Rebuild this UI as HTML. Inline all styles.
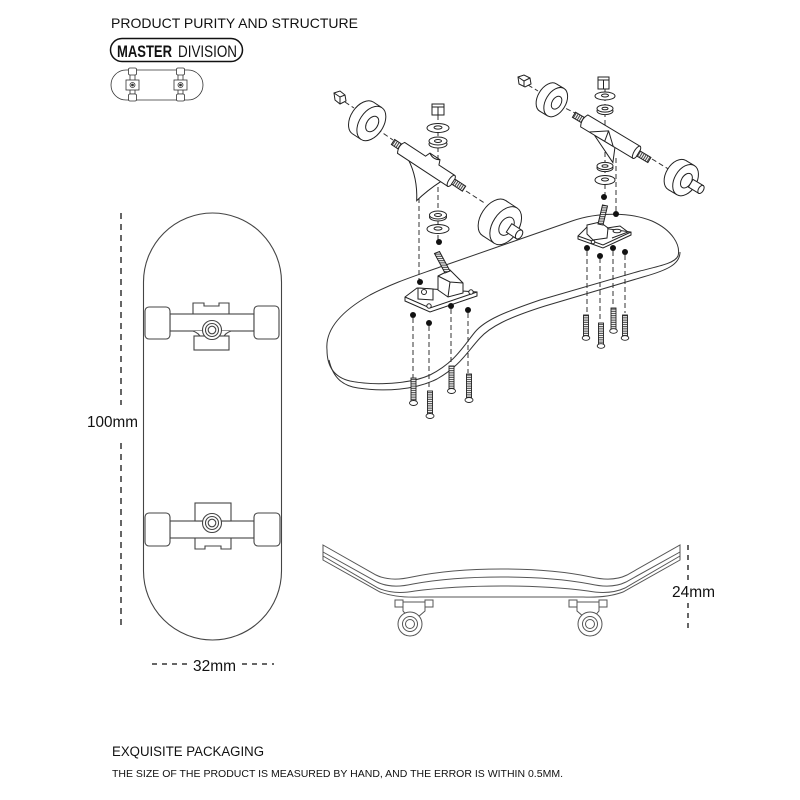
<!DOCTYPE html>
<html><head><meta charset="utf-8"><style>
html,body{margin:0;padding:0;background:#fff;}
svg{display:block;}
text{font-family:"Liberation Sans",Arial,sans-serif;fill:#111;}
</style></head><body>
<svg width="800" height="800" viewBox="0 0 800 800" xmlns="http://www.w3.org/2000/svg">
<defs>
<pattern id="thh" width="4" height="2.2" patternUnits="userSpaceOnUse"><rect width="4" height="2.2" fill="#fff"/><line x1="0" y1="1.1" x2="4" y2="1.1" stroke="#222" stroke-width="0.9"/></pattern>
<pattern id="thv" width="2.2" height="4" patternUnits="userSpaceOnUse"><rect width="2.2" height="4" fill="#fff"/><line x1="1.1" y1="0" x2="1.1" y2="4" stroke="#222" stroke-width="0.9"/></pattern>
</defs>

<!-- Header -->
<text x="111" y="28" font-size="14" textLength="247" lengthAdjust="spacingAndGlyphs">PRODUCT PURITY AND STRUCTURE</text>
<rect x="110.5" y="38.5" width="132" height="23" rx="11.5" fill="none" stroke="#111" stroke-width="1.5"/>
<text x="117" y="57" font-size="17" font-weight="bold" textLength="55" lengthAdjust="spacingAndGlyphs">MASTER</text>
<text x="178" y="57" font-size="17" textLength="59" lengthAdjust="spacingAndGlyphs">DIVISION</text>

<!-- small icon -->
<g stroke="#333" fill="#fff" stroke-width="0.8">
<rect x="111" y="70" width="92" height="30" rx="15" fill="none"/>
<rect x="130" y="74" width="5" height="20"/>
<rect x="128.5" y="68" width="8" height="7" rx="1.5"/>
<rect x="128.5" y="94" width="8" height="7" rx="1.5"/>
<rect x="126" y="80" width="13" height="10"/>
<circle cx="132.5" cy="85" r="2.5"/><circle cx="132.5" cy="85" r="1" fill="#333"/>
<rect x="178" y="74" width="5" height="20"/>
<rect x="176.5" y="68" width="8" height="7" rx="1.5"/>
<rect x="176.5" y="94" width="8" height="7" rx="1.5"/>
<rect x="174" y="80" width="13" height="10"/>
<circle cx="180.5" cy="85" r="2.5"/><circle cx="180.5" cy="85" r="1" fill="#333"/>
</g>

<!-- Front view deck -->
<g stroke="#444" stroke-width="1.1" fill="#fff">
<rect x="143.5" y="213" width="138" height="427" rx="69" fill="none"/>
<!-- top truck -->
<rect x="170" y="314" width="84" height="17"/>
<rect x="145" y="307" width="25" height="32" rx="4"/>
<rect x="254" y="306" width="25" height="33" rx="4"/>
<path d="M193,314 V303 H204 V306 H219 V303 H229 V314" fill="none"/>
<path d="M193,331 Q199,333 201,338 V350 H223 V338 Q225,333 231,331" />
<rect x="194" y="336" width="35" height="14"/>
<circle cx="212" cy="330" r="9.5"/>
<circle cx="212" cy="330" r="6.5"/>
<circle cx="212" cy="330" r="3.8"/>
<!-- bottom truck -->
<rect x="170" y="521" width="84" height="17"/>
<rect x="145" y="513" width="25" height="33" rx="4"/>
<rect x="254" y="513" width="26" height="33" rx="4"/>
<rect x="195" y="503" width="36" height="18"/>
<path d="M195,538 V549 H205 V546 H221 V549 H231 V538" fill="none"/>
<circle cx="212" cy="523" r="9.5"/>
<circle cx="212" cy="523" r="6.5"/>
<circle cx="212" cy="523" r="3.8"/>
</g>

<!-- dimensions -->
<g stroke="#333" stroke-width="1.5" stroke-dasharray="6 5" fill="none">
<line x1="121" y1="213" x2="121" y2="405"/>
<line x1="121" y1="443" x2="121" y2="630"/>
<line x1="152" y1="664" x2="190" y2="664" stroke-dasharray="5 5"/>
<line x1="242" y1="664" x2="274" y2="664" stroke-dasharray="5 5"/>
<line x1="688" y1="545" x2="688" y2="580" stroke-dasharray="5 5"/>
<line x1="688" y1="603" x2="688" y2="630" stroke-dasharray="5 5"/>
</g>
<text x="87" y="427" font-size="16" textLength="51" lengthAdjust="spacingAndGlyphs">100mm</text>
<text x="193" y="671" font-size="16" textLength="43" lengthAdjust="spacingAndGlyphs">32mm</text>
<text x="672" y="597" font-size="16" textLength="43" lengthAdjust="spacingAndGlyphs">24mm</text>

<!-- Side view -->
<g stroke="#555" stroke-width="1" fill="#fff">
<!-- trucks -->
<path d="M395,600 H403 V607 H395 Z M425,600 H433 V607 H425 Z"/>
<path d="M403,602 H425 V611 L418,617 H408 L403,611 Z"/>
<circle cx="410" cy="624" r="12"/>
<circle cx="410" cy="624" r="7.5"/>
<circle cx="410" cy="624" r="4.5"/>
<path d="M569,600 H577 V607 H569 Z M599,600 H607 V607 H599 Z"/>
<path d="M577,602 H599 V611 L594,617 H584 L577,611 Z"/>
<circle cx="590" cy="624" r="12"/>
<circle cx="590" cy="624" r="7.5"/>
<circle cx="590" cy="624" r="4.5"/>
<!-- deck -->
<path d="M323,545 L376,575 Q390,582 412,577 Q450,569 501.5,569 Q553,569 591,577 Q613,582 627,575 L680,545 V560 L623,592 Q607,598 583,597 L420,597 Q396,598 380,592 L323,560 Z"/>
<path fill="none" d="M323,552 L377,582 Q391,589 413,584 Q451,577 501.5,577 Q552,577 590,584 Q612,589 626,582 L680,552"/>
<path fill="none" d="M323,556 L378,588 Q393,595 415,591 Q453,586 501.5,586 Q550,586 588,591 Q610,595 625,588 L680,556"/>
</g>

<!-- Exploded deck -->
<g stroke="#333" stroke-width="1" fill="none">
<path fill="#fff" d="M327,350 C325,330 340,312 370,295 C395,282 415,276 440,267 L572,221 C598,212 630,212 652,221 C672,230 681,245 678,256 C675,263 660,266 640,271 L540,300 C505,312 485,320 475,332 C462,348 455,362 430,375 C410,384 375,386 350,381 C333,377 327,365 327,350 Z"/>
<path d="M329,360 C333,378 343,386 358,388 C385,392 415,390 437,379 C460,366 467,352 480,338 C490,327 507,318 545,306 L643,277 C668,270 680,264 680,252"/>
</g>

<!-- dashed guide lines -->
<g stroke="#333" stroke-width="1" stroke-dasharray="5 3" fill="none">
<line x1="438" y1="115" x2="438" y2="240"/>
<line x1="419" y1="198" x2="419" y2="280"/>
<line x1="413" y1="318" x2="413" y2="378"/>
<line x1="429" y1="326" x2="429" y2="390"/>
<line x1="451" y1="309" x2="451" y2="365"/>
<line x1="468" y1="313" x2="468" y2="373"/>
<line x1="605" y1="88" x2="605" y2="195"/>
<line x1="616" y1="158" x2="616" y2="212"/>
<line x1="587" y1="251" x2="587" y2="313"/>
<line x1="600" y1="258" x2="600" y2="321"/>
<line x1="613" y1="251" x2="613" y2="306"/>
<line x1="625" y1="255" x2="625" y2="313"/>
<line x1="345" y1="102" x2="354" y2="108"/>
<line x1="377" y1="129" x2="393" y2="140"/>
<line x1="466" y1="191" x2="486" y2="204"/>
<line x1="528" y1="85" x2="538" y2="91"/>
<line x1="559" y1="105" x2="575" y2="113"/>
<line x1="652" y1="159" x2="670" y2="170"/>
</g>

<!-- baseplates -->
<g stroke="#222" stroke-width="1" fill="#fff">
<path d="M405,297 L417,288 L477,292 L477,296 L430,312 L405,301 Z"/>
<path d="M405,297 L430,308 L477,292" fill="none"/>
<path d="M418,288 L433,289 L433,300 L418,299 Z"/>
<circle cx="424" cy="292" r="2.5"/>
<circle cx="429" cy="306" r="2.2"/>
<circle cx="471" cy="292" r="2.2"/>
<path d="M438,276 L450,270 L463,283 L463,293 L448,297 L438,290 Z"/>
<path d="M438,276 L450,282 L463,283 M450,282 L448,297" fill="none"/>
<path d="M434.5,253.5 L439.5,251.5 L450,271 L445,273 Z" fill="url(#thh)"/>
<path d="M578,236 L588,226 L631,232 L631,235 L603,248 L578,239 Z"/>
<path d="M578,236 L603,245 L631,232" fill="none"/>
<path d="M587,225 L600,222 L608,228 L607,238 L593,240 L587,234 Z"/>
<path d="M607,228 L620,226 L628,232 L612,238" fill="none"/>
<ellipse cx="617" cy="231" rx="4" ry="1.8"/>
<circle cx="593" cy="242" r="1.8"/>
<path d="M602.5,205 L607.5,206 L603,225 L598,224 Z" fill="url(#thh)"/>
</g>

<!-- screws -->
<g stroke="#222" stroke-width="0.9">
<rect x="411" y="378" width="5" height="24" fill="url(#thh)"/><ellipse cx="413.5" cy="403" rx="4" ry="2.5" fill="#fff"/>
<rect x="427.5" y="391" width="5" height="24" fill="url(#thh)"/><ellipse cx="430" cy="416" rx="4" ry="2.5" fill="#fff"/>
<rect x="449" y="366" width="5" height="24" fill="url(#thh)"/><ellipse cx="451.5" cy="391" rx="4" ry="2.5" fill="#fff"/>
<rect x="466.5" y="374" width="5" height="25" fill="url(#thh)"/><ellipse cx="469" cy="400" rx="4" ry="2.5" fill="#fff"/>
<rect x="583.5" y="315" width="5" height="22" fill="url(#thh)"/><ellipse cx="586" cy="338" rx="3.8" ry="2.3" fill="#fff"/>
<rect x="598.5" y="323" width="5" height="22" fill="url(#thh)"/><ellipse cx="601" cy="346" rx="3.8" ry="2.3" fill="#fff"/>
<rect x="611" y="308" width="5" height="22" fill="url(#thh)"/><ellipse cx="613.5" cy="331" rx="3.8" ry="2.3" fill="#fff"/>
<rect x="622.5" y="315" width="5" height="22" fill="url(#thh)"/><ellipse cx="625" cy="338" rx="3.8" ry="2.3" fill="#fff"/>
</g>

<!-- dots -->
<g fill="#111">
<circle cx="420" cy="282" r="3"/><circle cx="439" cy="242" r="3"/>
<circle cx="413" cy="315" r="3"/><circle cx="429" cy="323" r="3"/>
<circle cx="451" cy="306" r="3"/><circle cx="468" cy="310" r="3"/>
<circle cx="604" cy="197" r="3"/><circle cx="616" cy="214" r="3"/>
<circle cx="587" cy="248" r="3"/><circle cx="600" cy="256" r="3"/>
<circle cx="613" cy="248" r="3"/><circle cx="625" cy="252" r="3"/>
</g>

<!-- washers & kingpin nuts -->
<g stroke="#222" stroke-width="1" fill="#fff">
<rect x="432" y="104" width="12" height="11"/><path d="M432,107 H444 M438,107 V115" fill="none"/>
<ellipse cx="438" cy="128" rx="11" ry="4.5"/><ellipse cx="438" cy="127.5" rx="4" ry="1.6"/>
<ellipse cx="438" cy="144" rx="9" ry="4"/><ellipse cx="438" cy="141" rx="9" ry="4"/><ellipse cx="438" cy="141" rx="3.5" ry="1.5"/>
<ellipse cx="438" cy="217" rx="8.5" ry="4"/><ellipse cx="438" cy="215" rx="8.5" ry="4"/><ellipse cx="438" cy="215" rx="3.5" ry="1.5"/>
<ellipse cx="438" cy="229" rx="11" ry="4.5"/><ellipse cx="438" cy="228.5" rx="4" ry="1.6"/>
<rect x="598" y="77" width="11" height="12"/><path d="M598,80 H609 M603.5,80 V89" fill="none"/>
<ellipse cx="605" cy="96" rx="10" ry="4"/><ellipse cx="605" cy="95.5" rx="3.5" ry="1.5"/>
<ellipse cx="605" cy="111" rx="8" ry="3.6"/><ellipse cx="605" cy="108.5" rx="8" ry="3.6"/><ellipse cx="605" cy="108.5" rx="3" ry="1.3"/>
<ellipse cx="605" cy="168" rx="8" ry="3.6"/><ellipse cx="605" cy="166" rx="8" ry="3.6"/><ellipse cx="605" cy="166" rx="3" ry="1.3"/>
<ellipse cx="605" cy="180" rx="10" ry="4.5"/><ellipse cx="605" cy="179.5" rx="3.5" ry="1.5"/>
<!-- axle nuts -->
<polygon points="334,93 340,91 345,95 346,101 340,104 335,100"/>
<path d="M334,93 L340,97 L345,95 M340,97 L340,104" fill="none"/>
<polygon points="518,77 524,75 530,78 531,84 525,87 519,84"/>
<path d="M518,77 L524,81 L530,78 M524,81 L524,87" fill="none"/>
</g>

<!-- hangers -->
<g stroke="#222" stroke-width="1" fill="#fff">
<g transform="translate(393,142) rotate(33.3)">
<rect x="0" y="-3" width="11" height="6" fill="url(#thv)"/>
<path d="M22,6 Q40,16 52,36 Q55,22 62,6 Z"/>
<path d="M10,-6 L35,-6 L37,-11 L49,-11 L51,-6 L70,-6 Q74,0 70,7 L10,7 Q6,0 10,-6 Z"/>
<path d="M37,-11 Q43,-7 49,-11" fill="none"/>
<ellipse cx="70" cy="0.5" rx="2.5" ry="6.5"/>
<rect x="72" y="-3" width="13" height="6" fill="url(#thv)"/>
</g>
<g transform="translate(575,113) rotate(31)">
<rect x="0" y="-1" width="12" height="6" fill="url(#thv)"/>
<path d="M28,9 L58,23 L52,9 Z"/>
<path d="M12,-5 L73,-5 Q77,2 73,9 L12,9 Q8,2 12,-5 Z"/>
<path d="M22,9 L38,-2 L50,9 M38,-2 L40,9" fill="none"/>
<ellipse cx="73" cy="2" rx="2.5" ry="7"/>
<rect x="75" y="-1" width="13" height="6" fill="url(#thv)"/>
</g>
</g>

<!-- wheels -->
<g stroke="#222" stroke-width="1" fill="#fff">
<g transform="translate(363,118) rotate(33.3)">
<ellipse cx="0" cy="0" rx="12" ry="19"/>
<rect x="0" y="-19" width="10" height="38" stroke="none"/>
<line x1="0" y1="-19" x2="10" y2="-19"/><line x1="0" y1="19" x2="10" y2="19"/>
<ellipse cx="10" cy="0" rx="12" ry="19"/>
<ellipse cx="11" cy="0" rx="5.5" ry="8.5"/>
</g>
<g transform="translate(494,218) rotate(33.3)">
<ellipse cx="0" cy="0" rx="13" ry="21"/>
<rect x="0" y="-21" width="14" height="42" stroke="none"/>
<line x1="0" y1="-21" x2="14" y2="-21"/><line x1="0" y1="21" x2="14" y2="21"/>
<ellipse cx="14" cy="0" rx="13" ry="21"/>
<ellipse cx="15" cy="0" rx="6.5" ry="10"/>
<rect x="18" y="-5" width="12" height="10"/>
<ellipse cx="30" cy="0" rx="3" ry="5"/>
</g>
<g transform="translate(548,97.5) rotate(31)">
<ellipse cx="0" cy="0" rx="10" ry="16"/>
<rect x="0" y="-16" width="9" height="32" stroke="none"/>
<line x1="0" y1="-16" x2="9" y2="-16"/><line x1="0" y1="16" x2="9" y2="16"/>
<ellipse cx="9" cy="0" rx="10" ry="16"/>
<ellipse cx="10" cy="0" rx="4.5" ry="7"/>
</g>
<g transform="translate(677,175) rotate(31)">
<ellipse cx="0" cy="0" rx="11" ry="17"/>
<rect x="0" y="-17" width="10" height="34" stroke="none"/>
<line x1="0" y1="-17" x2="10" y2="-17"/><line x1="0" y1="17" x2="10" y2="17"/>
<ellipse cx="10" cy="0" rx="11" ry="17"/>
<ellipse cx="11" cy="0" rx="5" ry="8"/>
<rect x="16" y="-4.5" width="12" height="9"/>
<ellipse cx="28" cy="0" rx="2.5" ry="4.5"/>
</g>
</g>

<!-- bottom text -->
<text x="112" y="756" font-size="13.5" textLength="152" lengthAdjust="spacingAndGlyphs">EXQUISITE PACKAGING</text>
<text x="112" y="777" font-size="10" textLength="451" lengthAdjust="spacingAndGlyphs">THE SIZE OF THE PRODUCT IS MEASURED BY HAND, AND THE ERROR IS WITHIN 0.5MM.</text>
</svg>
</body></html>
